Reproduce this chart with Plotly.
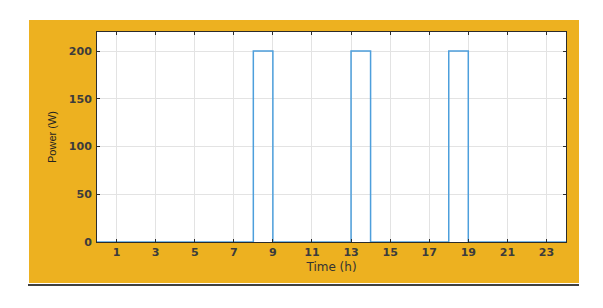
import plotly.graph_objects as go

hours = list(range(0, 25))
power = [0, 0, 0, 0, 0, 0, 0, 0, 200, 0, 0, 0, 0, 200, 0, 0, 0, 0, 200, 0, 0, 0, 0, 0, 0]
x_ticks = [1, 3, 5, 7, 9, 11, 13, 15, 17, 19, 21, 23]
y_ticks = [0, 50, 100, 150, 200]

OFF = 8  # page body margin
W, H = 603 - OFF, 308 - OFF
L, T = 97 - OFF, 32 - OFF
R = W - (566 - OFF)
B = H - (242 - OFF)
pw, ph = W - L - R, H - T - B

def px(x):
    return (x - OFF - L) / pw

def py(y):
    return (H - B - (y - OFF)) / ph

fig = go.Figure()
fig.add_trace(go.Scatter(x=hours, y=power, mode="lines", line=dict(shape="hv", color="#4d9fdc", width=1.5),
                         showlegend=False, hoverinfo="skip"))

tick_font = dict(family="DejaVu Sans, sans-serif", size=11, color="#3c3c3c", weight="bold")
axis_common = dict(showline=True, linecolor="#2b2b2b", linewidth=1, mirror="ticks", ticks="inside",
                   ticklen=3, tickcolor="#2b2b2b", showgrid=True, gridcolor="#e3e3e3", gridwidth=1,
                   zeroline=False, tickfont=tick_font)

fig.update_xaxes(range=[0, 24], tickvals=x_ticks,
                 title=dict(text="Time (h)", font=dict(family="DejaVu Sans, sans-serif", size=12, color="#333333"),
                            standoff=4), **axis_common)
fig.update_yaxes(range=[0, 220], tickvals=y_ticks, ticklabelstandoff=2,
                 title=dict(text="Power (W)", font=dict(family="Liberation Sans, Arial, sans-serif", size=11, color="#222222"),
                            standoff=9), **axis_common)

fig.update_layout(
    width=W, height=H, margin=dict(l=L, r=R, t=T, b=B, pad=0),
    paper_bgcolor="white", plot_bgcolor="white",
    shapes=[
        dict(type="rect", xref="paper", yref="paper", x0=px(29), x1=px(579), y0=py(283), y1=py(20),
             fillcolor="#EDB120", line=dict(width=0), layer="below"),
        dict(type="rect", xref="paper", yref="paper", x0=0, x1=1, y0=0, y1=1,
             fillcolor="white", line=dict(width=0), layer="below"),
        dict(type="line", xref="paper", yref="paper", x0=px(28), x1=px(579), y0=py(285), y1=py(285),
             line=dict(color="black", width=1.5), layer="below"),
    ],
)

fig.write_html("out.html")
